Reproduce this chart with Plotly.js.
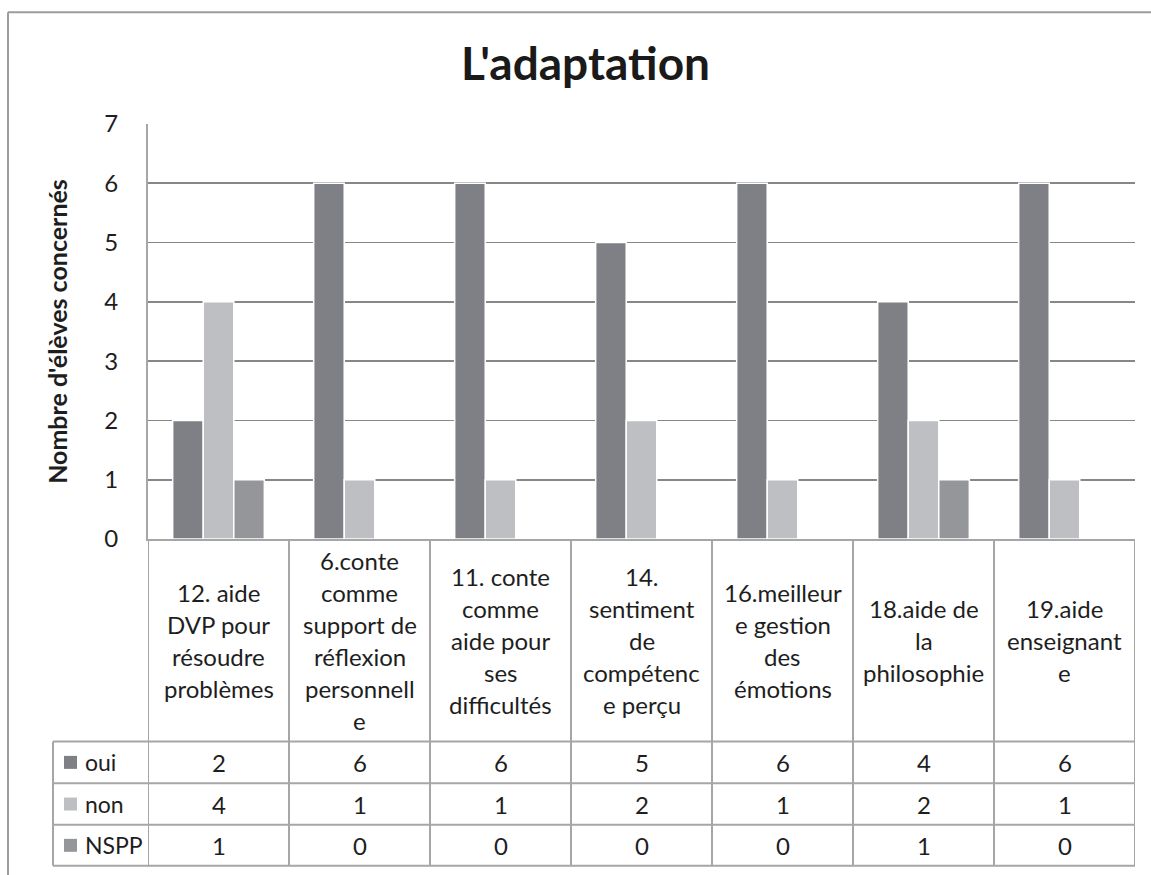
<!DOCTYPE html>
<html>
<head>
<meta charset="utf-8">
<script src="https://cdn.plot.ly/plotly-3.0.1.min.js"></script>
<style>
  html, body { margin: 0; padding: 0; background: #ffffff; }
  #chart { width: 1151px; height: 875px; }
</style>
</head>
<body>
<div id="chart"></div>
<script>
// ---- data ----
const categories = [
  "12. aide\nDVP pour\nrésoudre\nproblèmes",
  "6.conte\ncomme\nsupport de\nréflexion\npersonnell\ne",
  "11. conte\ncomme\naide pour\nses\ndifficultés",
  "14.\nsentiment\nde\ncompétenc\ne perçu",
  "16.meilleur\ne gestion\ndes\némotions",
  "18.aide de\nla\nphilosophie",
  "19.aide\nenseignant\ne"
];
const oui  = [2, 6, 6, 5, 6, 4, 6];
const non  = [4, 1, 1, 2, 1, 2, 1];
const nspp = [1, 0, 0, 0, 0, 1, 0];
const seriesNames = ["oui", "non", "NSPP"];
const chartTitle = "L'adaptation";
const yTitle = "Nombre d'élèves concernés";

// ---- styling ----
const colors = ["#7f8085", "#bebfc3", "#95969a"];
const FONT = "Lato, 'Open Sans', sans-serif";
const TXT = "#1e1e1e";
const LINE = "#a6a6a6";
const FS = 24;

const W = 1151, H = 875, L = 148, R = 1135, T = 124, B = 539.5;
const px = x => (x - L) / (R - L);
const py = y => (B - y) / (B - T);

const xs = categories.map((c, i) => i);
const seriesValues = [oui, non, nspp];

const traces = seriesValues.map((vals, k) => ({
  type: "bar",
  name: seriesNames[k],
  x: xs,
  y: vals,
  marker: { color: colors[k], line: { color: "#ffffff", width: 1.5 } },
  hoverinfo: "x+y+name"
}));

const shapes = [];
const annotations = [];

// outer chart frame (left and top edges visible)
shapes.push({ type: "line", xref: "paper", yref: "paper",
  x0: px(8), x1: px(8), y0: py(880), y1: py(12), line: { color: "#9c9c9c", width: 2 } });
shapes.push({ type: "line", xref: "paper", yref: "paper",
  x0: px(8), x1: px(1160), y0: py(12), y1: py(12), line: { color: "#9c9c9c", width: 2 } });

// data table geometry
const headerBottom = 742.3, rowBottoms = [784, 825.7, 866.7], tableLeft = 53;
for (let i = 0; i <= categories.length; i++) {
  shapes.push({ type: "line", xref: "x", yref: "paper",
    x0: i - 0.5, x1: i - 0.5, y0: py(B), y1: py(rowBottoms[2]),
    line: { color: LINE, width: 2 } });
}
shapes.push({ type: "line", xref: "paper", yref: "paper",
  x0: px(tableLeft), x1: px(tableLeft), y0: py(headerBottom), y1: py(rowBottoms[2]),
  line: { color: LINE, width: 2 } });
[headerBottom].concat(rowBottoms).forEach(yy => {
  shapes.push({ type: "line", xref: "paper", yref: "paper",
    x0: px(tableLeft), x1: 1, y0: py(yy), y1: py(yy),
    line: { color: LINE, width: 2 } });
});

// header labels (category names), one line at a time
const lineGap = 32, headerMid = (B + headerBottom) / 2;
categories.forEach((cat, i) => {
  const lines = cat.split("\n");
  lines.forEach((ln, j) => {
    annotations.push({ xref: "x", yref: "paper", x: i,
      y: py(headerMid + (j - (lines.length - 1) / 2) * lineGap),
      text: ln, showarrow: false, xanchor: "center", yanchor: "middle",
      font: { family: FONT, size: FS, color: TXT } });
  });
});

// table rows: legend key + label + values
const rowTops = [headerBottom].concat(rowBottoms.slice(0, 2));
seriesValues.forEach((vals, k) => {
  const mid = (rowTops[k] + rowBottoms[k]) / 2;
  shapes.push({ type: "rect", xref: "paper", yref: "paper",
    x0: px(64), x1: px(77), y0: py(mid + 6.5), y1: py(mid - 6.5),
    fillcolor: colors[k], line: { width: 0 } });
  annotations.push({ xref: "paper", yref: "paper", x: px(83), y: py(mid),
    text: seriesNames[k], showarrow: false, xanchor: "left", yanchor: "middle",
    font: { family: FONT, size: 23, color: TXT } });
  vals.forEach((v, i) => {
    annotations.push({ xref: "x", yref: "paper", x: i, y: py(mid),
      text: String(v), showarrow: false, xanchor: "center", yanchor: "middle",
      font: { family: FONT, size: FS, color: TXT } });
  });
});

const layout = {
  width: W, height: H,
  margin: { l: L, r: W - R, t: T, b: H - B, pad: 0 },
  paper_bgcolor: "#ffffff", plot_bgcolor: "#ffffff",
  showlegend: false,
  barmode: "group",
  bargap: 0.35,
  bargroupgap: 0,
  title: {
    text: chartTitle,
    font: { family: FONT, size: 46, color: "#1a1a1a", weight: "bold" },
    xref: "container", x: 585.5 / W, xanchor: "center",
    yref: "container", y: 1 - 64 / H, yanchor: "middle"
  },
  xaxis: {
    type: "linear", range: [-0.5, categories.length - 0.5],
    showticklabels: false, showgrid: false, zeroline: false,
    showline: true, linecolor: LINE, linewidth: 2, ticks: "", fixedrange: true
  },
  yaxis: {
    range: [0, 7], dtick: 1, tick0: 0,
    showgrid: true, gridcolor: "#878787", gridwidth: 1.8,
    zeroline: false, showline: true, linecolor: LINE, linewidth: 2,
    ticks: "", ticklabelstandoff: 23,
    tickfont: { family: FONT, size: FS, color: TXT },
    title: { text: yTitle, standoff: 30,
      font: { family: FONT, size: 25, color: TXT, weight: "bold" } },
    automargin: false, fixedrange: true
  },
  shapes: shapes,
  annotations: annotations
};

Plotly.newPlot("chart", traces, layout, { displayModeBar: false, staticPlot: true });
</script>
</body>
</html>
